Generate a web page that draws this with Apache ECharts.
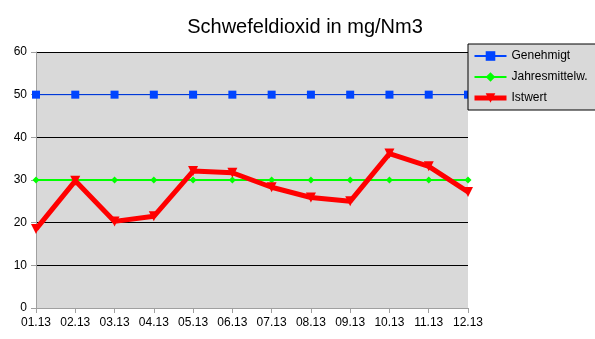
<!DOCTYPE html>
<html><head><meta charset="utf-8">
<script src="https://cdn.jsdelivr.net/npm/echarts@6/dist/echarts.min.js"></script>
<style>html,body{margin:0;padding:0;background:#fff}#c{width:595px;height:339px}</style>
</head><body><div id="c"></div>
<script>
var categories = ['01.13','02.13','03.13','04.13','05.13','06.13','07.13','08.13','09.13','10.13','11.13','12.13'];
var genehmigt = [50,50,50,50,50,50,50,50,50,50,50,50];
var jahresmittel = [30,30,30,30,30,30,30,30,30,30,30,30];
var istwert = [18.5,29.8,20.3,21.5,32.1,31.7,28.3,25.9,25.0,36.2,33.2,27.2];
var yTicks = [0,10,20,30,40,50,60];

var chart = echarts.init(document.getElementById('c'), null, {renderer:'canvas'});
var font = 'Liberation Sans, Arial, sans-serif';
chart.setOption({
  animation:false,
  title:{text:'Schwefeldioxid in mg/Nm3', left:300, textAlign:'center', top:12,
    textStyle:{fontFamily:font, fontSize:20, fontWeight:'normal', color:'#000'}},
  grid:{left:36, top:52, right:127, bottom:31, show:true, backgroundColor:'#d9d9d9', borderWidth:0},
  legend:{orient:'vertical', left:468, top:44, width:114, padding:[6,10,6,4], itemGap:9,
    backgroundColor:'#d9d9d9', borderColor:'#000', borderWidth:1, borderRadius:0,
    itemWidth:32, itemHeight:12,
    textStyle:{fontFamily:font, fontSize:12, color:'#000'},
    data:[{name:'Genehmigt'},{name:'Jahresmittelw.'},{name:'Istwert', lineStyle:{width:5}}]},
  xAxis:{type:'category', data:categories, boundaryGap:false,
    axisLine:{lineStyle:{color:'#a0a0a0'}},
    axisTick:{show:true, length:5, lineStyle:{color:'#a0a0a0'}},
    axisLabel:{fontFamily:font, fontSize:12, color:'#000', margin:9},
    splitLine:{show:false}},
  yAxis:{type:'value', min:0, max:60, interval:10,
    axisLine:{show:true, lineStyle:{color:'#a0a0a0'}},
    axisTick:{show:true, length:5, lineStyle:{color:'#a0a0a0'}},
    axisLabel:{fontFamily:font, fontSize:12, color:'#000', margin:9},
    splitLine:{show:true, lineStyle:{color:'#000', width:1}}},
  series:[
    {name:'Genehmigt', type:'line', data:genehmigt, symbol:'rect', symbolSize:8,
      lineStyle:{color:'#0044ff', width:1}, itemStyle:{color:'#0044ff'}, z:3},
    {name:'Jahresmittelw.', type:'line', data:jahresmittel, symbol:'diamond', symbolSize:7,
      lineStyle:{color:'#00ff00', width:2}, itemStyle:{color:'#00ff00'}, z:3},
    {name:'Istwert', type:'line', data:istwert, symbol:'triangle', symbolRotate:180, symbolSize:10,
      lineStyle:{color:'#ff0000', width:5}, itemStyle:{color:'#ff0000'}, z:4}
  ]
});
</script></body></html>
